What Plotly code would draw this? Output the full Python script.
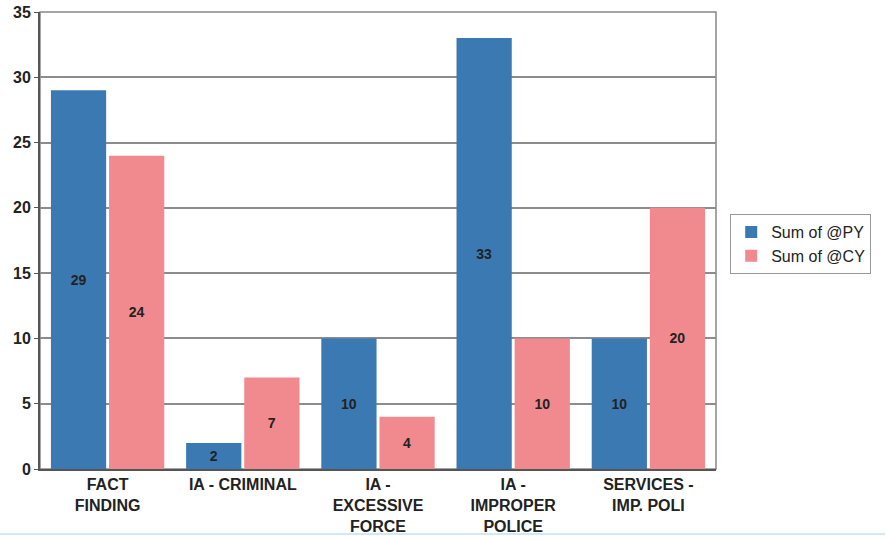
import plotly.graph_objects as go

categories = ["FACT<br>FINDING", "IA - CRIMINAL", "IA -<br>EXCESSIVE<br>FORCE",
              "IA -<br>IMPROPER<br>POLICE", "SERVICES -<br>IMP. POLI"]
py_values = [29, 2, 10, 33, 10]
cy_values = [24, 7, 4, 10, 20]
y_ticks = [0, 5, 10, 15, 20, 25, 30, 35]

FONT = "Liberation Sans, Arial"
lab_font = dict(family=FONT, size=14, color="#222222", weight="bold")

fig = go.Figure()
fig.add_trace(go.Bar(x=categories, y=py_values, name="Sum of @PY",
                     marker=dict(color="#3b79b2", line=dict(width=0)),
                     text=py_values, textposition="inside", insidetextanchor="middle",
                     textfont=lab_font, textangle=0))
fig.add_trace(go.Bar(x=categories, y=cy_values, name="Sum of @CY",
                     marker=dict(color="#f08a8f", line=dict(width=0)),
                     text=cy_values, textposition="inside", insidetextanchor="middle",
                     textfont=lab_font, textangle=0))

fig.update_layout(
    width=886, height=540,
    margin=dict(l=40, r=170, t=12, b=71, autoexpand=False),
    paper_bgcolor="white", plot_bgcolor="white",
    barmode="group", bargap=0.14, bargroupgap=0.05,
    font=dict(family=FONT, color="#222222"),
    showlegend=True,
    legend=dict(x=1.021, y=0.492, xanchor="left", yanchor="middle",
                bordercolor="#999999", borderwidth=1,
                font=dict(size=16, color="#222222", family=FONT),
                itemwidth=30, tracegroupgap=0),
    uniformtext=dict(mode="show", minsize=13),
)
fig.update_xaxes(showline=True, linecolor="#555555", linewidth=2,
                 tickfont=dict(size=16, family=FONT, color="#222222", weight="bold"),
                 ticks="", showgrid=False, ticklabeloverflow="allow")
fig.update_yaxes(range=[0, 35], tickvals=y_ticks, showline=True, linecolor="#555555",
                 linewidth=2, showgrid=True, gridcolor="#8c8c8c", gridwidth=1.5,
                 ticks="outside", ticklen=4, tickcolor="#555555",
                 tickfont=dict(size=16, family=FONT, color="#222222", weight="bold"),
                 zeroline=False, ticklabeloverflow="allow")
fig.add_shape(type="rect", xref="paper", yref="paper", x0=0, y0=0, x1=1, y1=1,
              line=dict(color="#888888", width=1.5), layer="below")
# faint light-blue rule at the bottom of the page
fig.add_shape(type="line", xref="paper", yref="paper", x0=-0.06, x1=1.25, y0=-0.142, y1=-0.142,
              line=dict(color="#d3e8f4", width=2), layer="below")

fig.write_html("out.html", config={"displayModeBar": False},
               post_script="document.body.style.margin='0px';")
